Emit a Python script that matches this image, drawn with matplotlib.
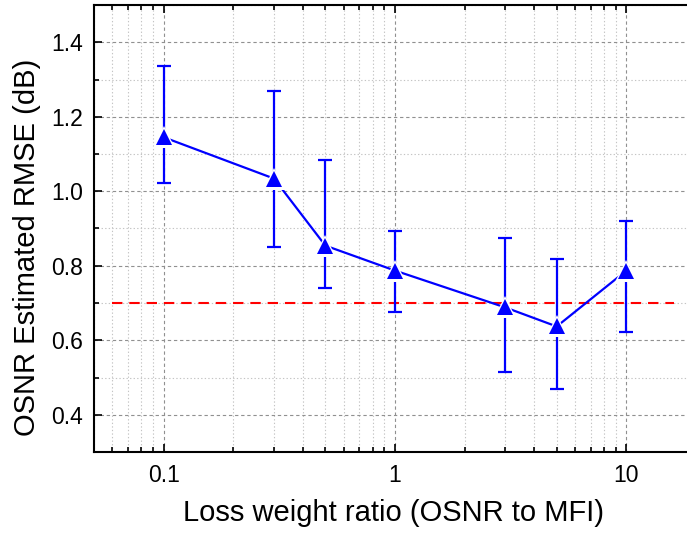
import matplotlib
matplotlib.use("Agg")
import matplotlib.pyplot as plt
from matplotlib.ticker import LogLocator, MultipleLocator, FuncFormatter

# ---- data ----
ratios = [0.1, 0.3, 0.5, 1, 3, 5, 10]
rmse = [1.145, 1.034, 0.854, 0.787, 0.688, 0.637, 0.787]
err_upper = [1.336, 1.268, 1.085, 0.892, 0.874, 0.819, 0.920]
err_lower = [1.022, 0.850, 0.739, 0.677, 0.514, 0.469, 0.623]
ref_level = 0.70
ref_x = [0.06, 16]
xticks = [0.1, 1, 10]
xticklabels = ["0.1", "1", "10"]
yticks = [0.4, 0.6, 0.8, 1.0, 1.2, 1.4]
yticklabels = ["0.4", "0.6", "0.8", "1.0", "1.2", "1.4"]

plt.rcParams['font.family'] = ['Liberation Sans', 'DejaVu Sans']

fig = plt.figure(figsize=(6.87, 5.35), dpi=100)
ax = fig.add_axes([94/687, 83/535, (696-94)/687, (530-83)/535])

ax.set_xscale('log')
ax.set_xlim(0.05, 20)
ax.set_ylim(0.3, 1.5)

ax.set_xticks(xticks)
ax.set_xticklabels(xticklabels)
ax.xaxis.set_minor_locator(LogLocator(base=10, subs=range(2, 10)))
ax.xaxis.set_minor_formatter(FuncFormatter(lambda v, p: ""))
ax.set_yticks(yticks)
ax.set_yticklabels(yticklabels)
ax.yaxis.set_minor_locator(MultipleLocator(0.1))

ax.grid(True, which='major', color='#909090', linestyle=(0, (3, 2.5)), linewidth=0.8)
ax.grid(True, which='minor', color='#c4c4c4', linestyle=(0, (1.2, 2)), linewidth=0.8)
ax.set_axisbelow(True)

# reference line
ax.plot(ref_x, [ref_level, ref_level], color='red', linewidth=1.5,
        linestyle=(0, (5, 3.3)), zorder=2)

# error bars and line
yerr = [[m - l for m, l in zip(rmse, err_lower)],
        [u - m for m, u in zip(rmse, err_upper)]]
ax.errorbar(ratios, rmse, yerr=yerr, fmt='none', ecolor='blue', elinewidth=1.6,
            capsize=5, capthick=1.6, zorder=3)
ax.plot(ratios, rmse, color='blue', linewidth=1.6, zorder=3)
ax.plot(ratios, rmse, linestyle='none', marker='^', markersize=16.5,
        color='white', markeredgewidth=0, zorder=4)
ax.plot(ratios, rmse, linestyle='none', marker='^', markersize=12,
        color='blue', markeredgewidth=0, zorder=5)

for s in ['left', 'bottom', 'top']:
    ax.spines[s].set_linewidth(1.5)
ax.spines['right'].set_visible(False)

ax.tick_params(which='both', direction='in', top=True, right=False, width=1.2)
ax.tick_params(which='major', length=6, labelsize=16.5)
ax.tick_params(axis='y', which='major', pad=8)
ax.tick_params(axis='x', which='major', pad=9)
ax.tick_params(which='minor', length=3.5)

ax.set_xlabel("Loss weight ratio (OSNR to MFI)", fontsize=21)
ax.set_ylabel("OSNR Estimated RMSE (dB)", fontsize=21)
ax.xaxis.set_label_coords(0.498, -0.106)
ax.yaxis.set_label_coords(-0.088, 0.4586)

fig.savefig("out.png", dpi=100)
